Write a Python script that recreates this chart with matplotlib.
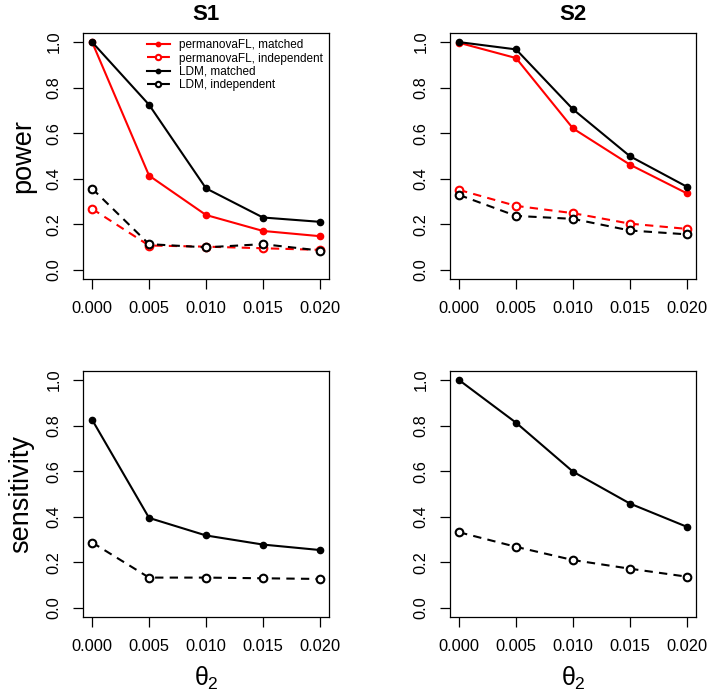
import matplotlib
matplotlib.use('Agg')
import matplotlib.pyplot as plt
from matplotlib.ticker import FormatStrFormatter

plt.rcParams['font.family'] = ['Liberation Sans', 'DejaVu Sans']
plt.rcParams['mathtext.fontset'] = 'custom'
plt.rcParams['mathtext.rm'] = 'Liberation Sans'
plt.rcParams['mathtext.it'] = 'Liberation Sans'

theta2 = [0.000, 0.005, 0.010, 0.015, 0.020]

# power, S1
s1_perm_matched = [1.000, 0.414, 0.241, 0.171, 0.148]
s1_perm_indep = [0.268, 0.107, 0.102, 0.095, 0.088]
s1_ldm_matched = [1.000, 0.725, 0.358, 0.230, 0.211]
s1_ldm_indep = [0.357, 0.113, 0.099, 0.113, 0.085]
# power, S2
s2_perm_matched = [0.997, 0.930, 0.621, 0.462, 0.336]
s2_perm_indep = [0.351, 0.281, 0.249, 0.203, 0.180]
s2_ldm_matched = [1.000, 0.968, 0.705, 0.499, 0.365]
s2_ldm_indep = [0.329, 0.237, 0.224, 0.173, 0.156]
# sensitivity (LDM only)
s1_sens_matched = [0.826, 0.395, 0.318, 0.278, 0.254]
s1_sens_indep = [0.287, 0.133, 0.133, 0.130, 0.127]
s2_sens_matched = [1.000, 0.813, 0.598, 0.458, 0.356]
s2_sens_indep = [0.332, 0.268, 0.210, 0.172, 0.137]

legend_labels = ['permanovaFL, matched', 'permanovaFL, independent',
                 'LDM, matched', 'LDM, independent']

W, H = 709, 695
fig = plt.figure(figsize=(W / 100, H / 100), dpi=100)

def pos(left, top):
    return [left / W, (H - top - 246) / H, 246 / W, 246 / H]

ax_tl = fig.add_axes(pos(83, 33))
ax_tr = fig.add_axes(pos(450, 33))
ax_bl = fig.add_axes(pos(83, 371))
ax_br = fig.add_axes(pos(450, 371))

LW = 1.5
MS = 4.5
DASH = (4, 3)

def solid(ax, y, color, label=None):
    ax.plot(theta2, y, color=color, lw=LW, marker='o', ms=MS, mfc=color,
            mec=color, label=label)

def dashed(ax, y, color, label=None):
    ax.plot(theta2, y, color=color, lw=LW, dashes=DASH, marker='o', ms=MS + 1,
            mfc='white', mec=color, mew=1.5, label=label)

def style(ax):
    ax.set_xlim(-0.0008, 0.0208)
    ax.set_ylim(-0.04, 1.04)
    ax.set_xticks(theta2)
    ax.set_yticks([0, 0.2, 0.4, 0.6, 0.8, 1.0])
    ax.xaxis.set_major_formatter(FormatStrFormatter('%.3f'))
    ax.yaxis.set_major_formatter(FormatStrFormatter('%.1f'))
    ax.tick_params(direction='out', length=7.5, width=0.9, pad=8,
                   labelsize=11.8, colors='black')
    for lab in ax.get_yticklabels():
        lab.set_rotation(90)
        lab.set_va('center')
    for sp in ax.spines.values():
        sp.set_linewidth(0.9)

# top left
solid(ax_tl, s1_perm_matched, 'red', legend_labels[0])
dashed(ax_tl, s1_perm_indep, 'red', legend_labels[1])
solid(ax_tl, s1_ldm_matched, 'black', legend_labels[2])
dashed(ax_tl, s1_ldm_indep, 'black', legend_labels[3])
ax_tl.legend(loc='upper left', bbox_to_anchor=(0.26, 0.975), frameon=False,
             fontsize=8.5, handlelength=1.95, handletextpad=0.8,
             labelspacing=0.12, borderpad=0, borderaxespad=0, markerscale=0.7)

# top right
solid(ax_tr, s2_perm_matched, 'red')
dashed(ax_tr, s2_perm_indep, 'red')
solid(ax_tr, s2_ldm_matched, 'black')
dashed(ax_tr, s2_ldm_indep, 'black')

# bottom
solid(ax_bl, s1_sens_matched, 'black')
dashed(ax_bl, s1_sens_indep, 'black')
solid(ax_br, s2_sens_matched, 'black')
dashed(ax_br, s2_sens_indep, 'black')

for ax in (ax_tl, ax_tr, ax_bl, ax_br):
    style(ax)

fig.text(206 / W, 1 - 15 / H, 'S1', ha='center', va='center',
         fontsize=16, fontweight='bold')
fig.text(573 / W, 1 - 15 / H, 'S2', ha='center', va='center',
         fontsize=16, fontweight='bold')
fig.text(23 / W, 1 - 156 / H, 'power', rotation=90, ha='center',
         va='center', fontsize=19.5)
fig.text(21 / W, 1 - 494 / H, 'sensitivity', rotation=90, ha='center',
         va='center', fontsize=19.5)
fig.text(206 / W, 1 - 678 / H, r'$\theta_2$', ha='center', va='center',
         fontsize=18)
fig.text(573 / W, 1 - 678 / H, r'$\theta_2$', ha='center', va='center',
         fontsize=18)

fig.savefig('out.png', dpi=100)
